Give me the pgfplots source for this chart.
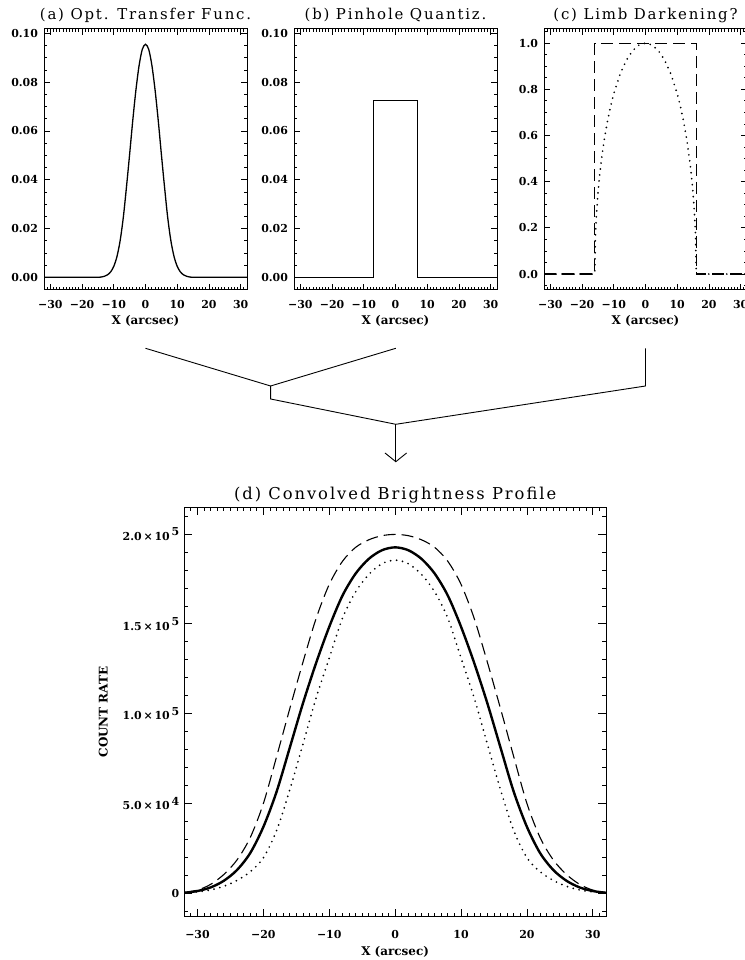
\documentclass[border=0pt]{standalone}
\usepackage{fontspec}
\setmainfont{DejaVu Serif}
\newfontfamily\titlefont[LetterSpace=12]{DejaVu Serif}
\usepackage{pgfplots}
\pgfplotsset{compat=1.18}
\begin{document}
\begin{tikzpicture}[x=1bp,y=1bp]
\useasboundingbox (0,0) rectangle (745,960);
\pgfplotsset{
  every axis title shift=0pt,
  idl/.style={
    scale only axis,
    axis line style={line width=1bp},
    tick align=inside,
    every tick/.style={black, line width=0.8bp},
    major tick length=6bp, minor tick length=3bp,
    tick label style={font=\fontsize{11}{11}\selectfont\bfseries},
    title style={font=\titlefont\fontsize{15}{15}\selectfont, at={(0.5,1)}, anchor=base, yshift=9.3bp},
    xlabel style={font=\fontsize{12}{12}\selectfont\bfseries, at={(0.5,0)}, anchor=base, yshift=-35bp},
    xticklabel style={anchor=base, yshift=-19bp},
    yticklabel style={anchor=east, xshift=-2.5bp},
    xmin=-32, xmax=32, xtick={-30,-20,-10,0,10,20,30},
    xticklabels={−30,−20,−10,0,10,20,30},
    minor xtick={-32,-31,...,32},
    scaled y ticks=false,
  },
  dashedcurve/.style={black, line width=1.1bp, dash pattern=on 12bp off 6bp},
  dottedcurve/.style={black, line width=1.9bp, line cap=round, dash pattern=on 0bp off 6bp},
}
\newcommand{\sx}[1]{\,\raisebox{4.5bp}{\fontsize{11}{11}\selectfont #1}}

% ---------- (a)
\begin{axis}[idl, at={(44bp,670bp)}, anchor=south west, width=203bp, height=261bp,
  ymin=-0.0052, ymax=0.1018,
  ytick={0,0.02,0.04,0.06,0.08,0.1},
  yticklabels={0.00,0.02,0.04,0.06,0.08,0.10},
  minor ytick={-0.005,0.005,0.01,0.015,0.025,0.03,0.035,0.045,0.05,0.055,0.065,0.07,0.075,0.085,0.09,0.095,0.1},
  title={(a) Opt. Transfer Func.}, xlabel={X (arcsec)}]
\addplot[black, line width=1.3bp, smooth] coordinates {
(-32,0) (-20,0) (-16,0) (-15,0) (-14,0.0001) (-13,0.0004) (-12,0.0010) (-11,0.0022)
(-10,0.0045) (-9,0.0085) (-8,0.0150) (-7,0.0245) (-6,0.0370) (-5,0.0505) (-4,0.0645)
(-3,0.0770) (-2,0.0870) (-1,0.0935) (0,0.0955) (1,0.0935) (2,0.0870) (3,0.0770)
(4,0.0645) (5,0.0505) (6,0.0370) (7,0.0245) (8,0.0150) (9,0.0085) (10,0.0045)
(11,0.0022) (12,0.0010) (13,0.0004) (14,0.0001) (15,0) (16,0) (20,0) (32,0)};
\end{axis}

% ---------- (b)
\begin{axis}[idl, at={(294bp,670bp)}, anchor=south west, width=203bp, height=261bp,
  ymin=-0.0052, ymax=0.1018,
  ytick={0,0.02,0.04,0.06,0.08,0.1},
  yticklabels={0.00,0.02,0.04,0.06,0.08,0.10},
  minor ytick={-0.005,0.005,0.01,0.015,0.025,0.03,0.035,0.045,0.05,0.055,0.065,0.07,0.075,0.085,0.09,0.095,0.1},
  title={(b) Pinhole Quantiz.}, xlabel={X (arcsec)}]
\addplot[black, line width=1.3bp] coordinates {
(-32,0) (-7,0) (-7,0.0725) (7,0.0725) (7,0) (32,0)};
\end{axis}

% ---------- (c)
\begin{axis}[idl, at={(544bp,670bp)}, anchor=south west, width=203bp, height=261bp,
  ymin=-0.069, ymax=1.061,
  ytick={0,0.2,0.4,0.6,0.8,1.0},
  yticklabels={0.0,0.2,0.4,0.6,0.8,1.0},
  minor ytick={-0.05,0.05,0.1,0.15,0.25,0.3,0.35,0.45,0.5,0.55,0.65,0.7,0.75,0.85,0.9,0.95,1.05},
  title={(c) Limb Darkening?}, xlabel={X (arcsec)}]
\addplot[dashedcurve] coordinates {
(-32,0) (-16,0) (-16,1) (16,1) (16,0) (32,0)};
\addplot[dottedcurve] coordinates {
(-32,0) (-16,0) (-15.8,0.158) (-15.5,0.248) (-15,0.348) (-14.5,0.423) (-14,0.484)
(-13,0.583) (-12,0.661) (-11,0.726) (-10,0.781) (-8,0.866) (-6,0.927) (-4,0.968)
(-2,0.992) (0,1) (2,0.992) (4,0.968) (6,0.927) (8,0.866) (10,0.781) (11,0.726)
(12,0.661) (13,0.583) (14,0.484) (14.5,0.423) (15,0.348) (15.5,0.248) (15.8,0.158)
(16,0) (32,0)};
\end{axis}

% ---------- (d)
\begin{axis}[idl, at={(184.3bp,43.3bp)}, anchor=south west, width=421.7bp, height=409.4bp,
  major tick length=8bp, minor tick length=4bp,
  ymin=-13000, ymax=214900,
  ytick={0,50000,100000,150000,200000},
  yticklabels={0, 5.0\,×\,10\sx{4}, 1.0\,×\,10\sx{5}, 1.5\,×\,10\sx{5}, 2.0\,×\,10\sx{5}},
  minor ytick={-10000,10000,20000,30000,40000,60000,70000,80000,90000,110000,120000,130000,140000,160000,170000,180000,190000,210000},
  xticklabel style={yshift=-2.6bp},
  xlabel style={yshift=-3.5bp},
  yticklabel style={xshift=1bp},
  title style={font=\titlefont\fontsize{16.4}{16.4}\selectfont, yshift=-1.5bp},
  ylabel style={font=\fontsize{12}{12}\selectfont\bfseries, at={(0,0.5)}, anchor=center, yshift=81bp},
  title={(d) Convolved Brightness Profile}, xlabel={X (arcsec)}, ylabel={COUNT RATE}]
\addplot[dashedcurve, smooth] coordinates {
(-32,500) (-30,1800) (-28,5000) (-26,10500) (-24,18600) (-22,31000) (-20,50000)
(-18,76000) (-16,102700) (-14,128600) (-12,153000) (-10,172000) (-8,184800)
(-6,192600) (-4,196800) (-2,199100) (0,199800) (2,199100) (4,196800) (6,192600)
(8,184800) (10,172000) (12,153000) (14,128600) (16,102700) (18,76000) (20,50000)
(22,31000) (24,18600) (26,10500) (28,5000) (30,1800) (32,500)};
\addplot[dottedcurve, smooth] coordinates {
(-32,200) (-30,800) (-28,1900) (-26,3900) (-24,7200) (-22,12000) (-20,19800)
(-18,34900) (-16,57500) (-14,83000) (-12,108700) (-10,131000) (-8,153100)
(-6,167800) (-4,177500) (-2,183500) (0,185500) (2,183500) (4,177500) (6,167800)
(8,153100) (10,131000) (12,108700) (14,83000) (16,57500) (18,34900) (20,19800)
(22,12000) (24,7200) (26,3900) (28,1900) (30,800) (32,200)};
\addplot[black, line width=2.4bp, smooth] coordinates {
(-32,300) (-30,1300) (-28,3300) (-26,7000) (-24,13000) (-22,22400) (-20,37000)
(-18,56500) (-16,81000) (-14,105700) (-12,128200) (-10,148400) (-8,165700)
(-6,178000) (-4,186200) (-2,191000) (0,192600) (2,191000) (4,186200) (6,178000)
(8,165700) (10,148400) (12,128200) (14,105700) (16,81000) (18,56500) (20,37000)
(22,22400) (24,13000) (26,7000) (28,3300) (30,1300) (32,300)};
\end{axis}

% ---------- connectors
\draw[line width=0.9bp] (145.5,611.7) -- (270.6,574) -- (395.8,611.7);
\draw[line width=0.9bp] (270.6,574) -- (270.6,561) -- (395.8,535.7) -- (645.5,574) -- (645.5,611.7);
\draw[line width=0.9bp] (395.8,535.7) -- (395.8,498.3);
\draw[line width=0.9bp] (385,507) -- (395.8,498.3) -- (406.6,507);
\end{tikzpicture}
\end{document}
